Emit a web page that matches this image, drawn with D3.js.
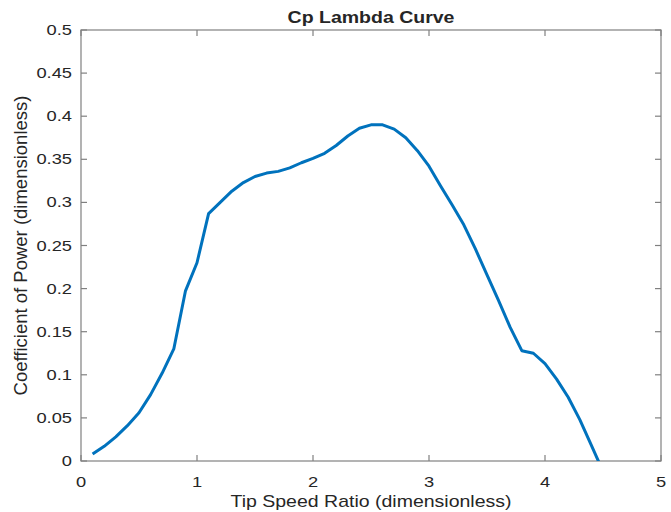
<!DOCTYPE html>
<html lang="en">
<head>
  <meta charset="UTF-8">
  <script src="https://d3js.org/d3.v7.min.js"></script>
  <title>Cp Lambda Curve</title>
  <style>
    body { margin: 0; background: #fff; }
    text { font-family: "Liberation Sans", Arial, sans-serif; fill: #262626; }
  </style>
</head>
<body>
  <svg width="671" height="512"></svg>

  <script>
    const width = 671, height = 512;

    // tip speed ratio samples and matching Cp values
    const tsr = [0.1, 0.2, 0.3, 0.4, 0.5, 0.6, 0.7, 0.8, 0.9, 1.0,
                 1.1, 1.2, 1.3, 1.4, 1.5, 1.6, 1.7, 1.8, 1.9, 2.0,
                 2.1, 2.2, 2.3, 2.4, 2.5, 2.6, 2.7, 2.8, 2.9, 3.0,
                 3.1, 3.2, 3.3, 3.4, 3.5, 3.6, 3.7, 3.8, 3.9, 4.0,
                 4.1, 4.2, 4.3, 4.4, 4.5];
    const cp = [0.008, 0.017, 0.028, 0.041, 0.056, 0.077, 0.102, 0.130, 0.197, 0.230,
                0.287, 0.300, 0.313, 0.323, 0.330, 0.334, 0.336, 0.340, 0.346, 0.351,
                0.357, 0.366, 0.377, 0.386, 0.390, 0.390, 0.385, 0.375, 0.360, 0.342,
                0.319, 0.297, 0.274, 0.246, 0.216, 0.186, 0.155, 0.128, 0.125, 0.113,
                0.095, 0.074, 0.048, 0.018, -0.012];

    const xTicks = [0, 1, 2, 3, 4, 5];
    const yTicks = [0, 0.05, 0.1, 0.15, 0.2, 0.25, 0.3, 0.35, 0.4, 0.45, 0.5];

    const title = "Cp Lambda Curve";
    const xLabel = "Tip Speed Ratio (dimensionless)";
    const yLabel = "Coefficient of Power (dimensionless)";

    const margin = { left: 81, right: 10, top: 30, bottom: 51 };
    const stretch = 1.22; // horizontal text looks widened in the picture

    const svg = d3.select("svg");

    const x = d3.scaleLinear().domain([0, 5]).range([margin.left, width - margin.right]);
    const y = d3.scaleLinear().domain([0, 0.5]).range([height - margin.bottom, margin.top]);

    const axisColor = "#808080";
    const tickLen = 6;

    // clip so the tail stops at the x axis like matlab does
    svg.append("clipPath").attr("id", "plot")
      .append("rect")
      .attr("x", x(0)).attr("y", y(0.5))
      .attr("width", x(5) - x(0)).attr("height", y(0) - y(0.5));

    // box
    svg.append("rect")
      .attr("x", x(0)).attr("y", y(0.5))
      .attr("width", x(5) - x(0)).attr("height", y(0) - y(0.5))
      .attr("fill", "none")
      .attr("stroke", axisColor)
      .attr("stroke-width", 1.2);

    // ticks pointing inward on all four sides
    const ticks = svg.append("g").attr("stroke", axisColor).attr("stroke-width", 1.2);
    xTicks.forEach(t => {
      ticks.append("line").attr("x1", x(t)).attr("x2", x(t)).attr("y1", y(0)).attr("y2", y(0) - tickLen);
      ticks.append("line").attr("x1", x(t)).attr("x2", x(t)).attr("y1", y(0.5)).attr("y2", y(0.5) + tickLen);
    });
    yTicks.forEach(t => {
      ticks.append("line").attr("x1", x(0)).attr("x2", x(0) + tickLen).attr("y1", y(t)).attr("y2", y(t));
      ticks.append("line").attr("x1", x(5)).attr("x2", x(5) - tickLen).attr("y1", y(t)).attr("y2", y(t));
    });

    function label(px, py, str, size, anchor, weight) {
      svg.append("text")
        .attr("transform", `translate(${px},${py}) scale(${stretch},1)`)
        .attr("text-anchor", anchor)
        .style("font-size", size + "px")
        .style("font-weight", weight || "normal")
        .text(str);
    }

    const fmt = d3.format("~g");
    xTicks.forEach(t => label(x(t), y(0) + 26, fmt(t), 15, "middle"));
    yTicks.forEach(t => label(x(0) - 9, y(t) + 5, fmt(t), 15, "end"));

    label((x(0) + x(5)) / 2, 23, title, 16, "middle", "bold");
    label((x(0) + x(5)) / 2, 507, xLabel, 16, "middle");

    svg.append("text")
      .attr("transform", `translate(27,${(y(0) + y(0.5)) / 2}) rotate(-90)`)
      .attr("text-anchor", "middle")
      .style("font-size", "18.5px")
      .text(yLabel);

    const line = d3.line()
      .x((d, i) => x(tsr[i]))
      .y(d => y(d));

    svg.append("path")
      .datum(cp)
      .attr("clip-path", "url(#plot)")
      .attr("fill", "none")
      .attr("stroke", "#0072BD")
      .attr("stroke-width", 3)
      .attr("stroke-linejoin", "round")
      .attr("d", line);
  </script>
</body>
</html>
